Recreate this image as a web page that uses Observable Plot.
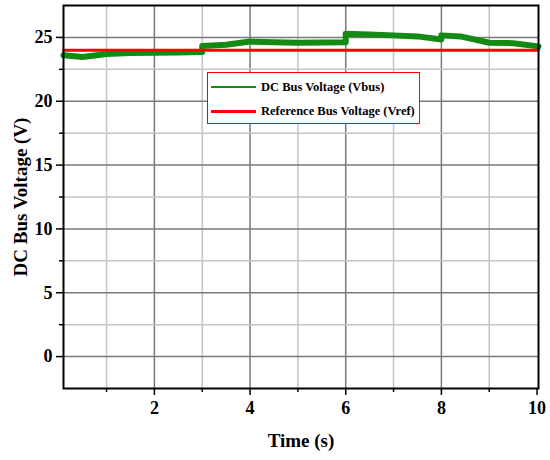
<!DOCTYPE html>
<html>
<head>
<meta charset="utf-8">
<script src="https://cdn.jsdelivr.net/npm/d3@7"></script>
<script src="https://cdn.jsdelivr.net/npm/@observablehq/plot@0.6"></script>
<style>
  body { margin: 0; background: white; }
  #wrap { position: relative; width: 550px; height: 460px; font-family: 'Liberation Serif', 'Times New Roman', serif; }
  #legend { position: absolute; left: 207px; top: 72px; width: 211px; height: 50px; border: 1.5px solid #ff0000; background: white; font-weight: bold; font-size: 12.5px; }
  .item { position: absolute; left: 3px; height: 14px; display: flex; align-items: center; white-space: nowrap; }
  .swatch { width: 45px; margin-right: 5px; }
</style>
</head>
<body>
<div id="wrap"></div>
<script>
// Data
const vbusTime = [0.1, 0.5, 1.0, 1.5, 2.0, 2.5, 3.0, 3.0, 3.5, 4.0, 4.5, 5.0, 5.5, 6.0, 6.0, 6.5, 7.0, 7.5, 8.0, 8.0, 8.4, 9.0, 9.5, 10.03];
const vbusValues = [23.6, 23.46, 23.7, 23.78, 23.8, 23.82, 23.85, 24.32, 24.43, 24.68, 24.62, 24.58, 24.6, 24.63, 25.29, 25.22, 25.16, 25.08, 24.84, 25.16, 25.08, 24.58, 24.55, 24.3];
const vrefTime = [0.1, 10.03];
const vrefValues = [24, 24];
const xMajorTicks = [2, 4, 6, 8, 10];
const xMinorTicks = [1, 3, 5, 7, 9];
const yMajorTicks = [0, 5, 10, 15, 20, 25];
const yMinorTicks = [2.5, 7.5, 12.5, 17.5, 22.5];
const seriesNames = ["DC Bus Voltage (Vbus)", "Reference Bus Voltage (Vref)"];
const seriesColors = ["#138a13", "#ff0000"];

const vbus = vbusTime.map((t, i) => ({t, v: vbusValues[i]}));
const vref = vrefTime.map((t, i) => ({t, v: vrefValues[i]}));

const font = "'Liberation Serif', 'Times New Roman', serif";

const chart = Plot.plot({
  width: 550,
  height: 460,
  marginLeft: 63,
  marginRight: 12,
  marginTop: 5,
  marginBottom: 72,
  x: {domain: [0.1, 10.03]},
  y: {domain: [-2.5, 27.5]},
  style: {fontFamily: font, fontWeight: "bold", fontSize: "18px", color: "black", background: "white"},
  marks: [
    Plot.gridX(xMinorTicks, {stroke: "#c4c4c4", strokeOpacity: 1, strokeWidth: 1.5}),
    Plot.gridX(xMajorTicks.filter(d => d < 10), {stroke: "#7a7a7a", strokeOpacity: 1, strokeWidth: 1.5}),
    Plot.gridY(yMinorTicks, {stroke: "#c4c4c4", strokeOpacity: 1, strokeWidth: 1.5}),
    Plot.gridY(yMajorTicks, {stroke: "#7a7a7a", strokeOpacity: 1, strokeWidth: 1.5}),
    Plot.line(vbus, {x: "t", y: "v", stroke: seriesColors[0], strokeWidth: 6}),
    Plot.line(vref, {x: "t", y: "v", stroke: seriesColors[1], strokeWidth: 3}),
    Plot.frame({stroke: "black", strokeWidth: 2}),
    Plot.axisX(xMajorTicks, {tickSize: 7, tickPadding: 6, strokeWidth: 1.5, tickFormat: d => String(d),
      label: "Time (s)", labelAnchor: "center", labelArrow: "none", labelOffset: 58}),
    Plot.axisX(xMinorTicks, {tickSize: 4, strokeWidth: 1.5, tickFormat: () => "", label: null}),
    Plot.axisY(yMajorTicks, {tickSize: 7, tickPadding: 4, strokeWidth: 1.5, tickFormat: d => String(d),
      label: "DC Bus Voltage (V)", labelAnchor: "center", labelArrow: "none", labelOffset: 50}),
    Plot.axisY(yMinorTicks, {tickSize: 4, strokeWidth: 1.5, tickFormat: () => "", label: null})
  ]
});
chart.querySelectorAll("g[aria-label='x-axis label'] text, g[aria-label='y-axis label'] text").forEach(t => t.style.fontSize = "19px");

const wrap = document.getElementById("wrap");
wrap.appendChild(chart);

const legend = document.createElement("div");
legend.id = "legend";
seriesNames.forEach((name, i) => {
  const item = document.createElement("div");
  item.className = "item";
  item.style.top = (i === 0 ? 7 : 31) + "px";
  const sw = document.createElement("div");
  sw.className = "swatch";
  sw.style.borderTop = (i === 0 ? 2.5 : 3) + "px solid " + seriesColors[i];
  item.appendChild(sw);
  const label = document.createElement("span");
  label.textContent = name;
  item.appendChild(label);
  legend.appendChild(item);
});
wrap.appendChild(legend);
</script>
</body>
</html>
